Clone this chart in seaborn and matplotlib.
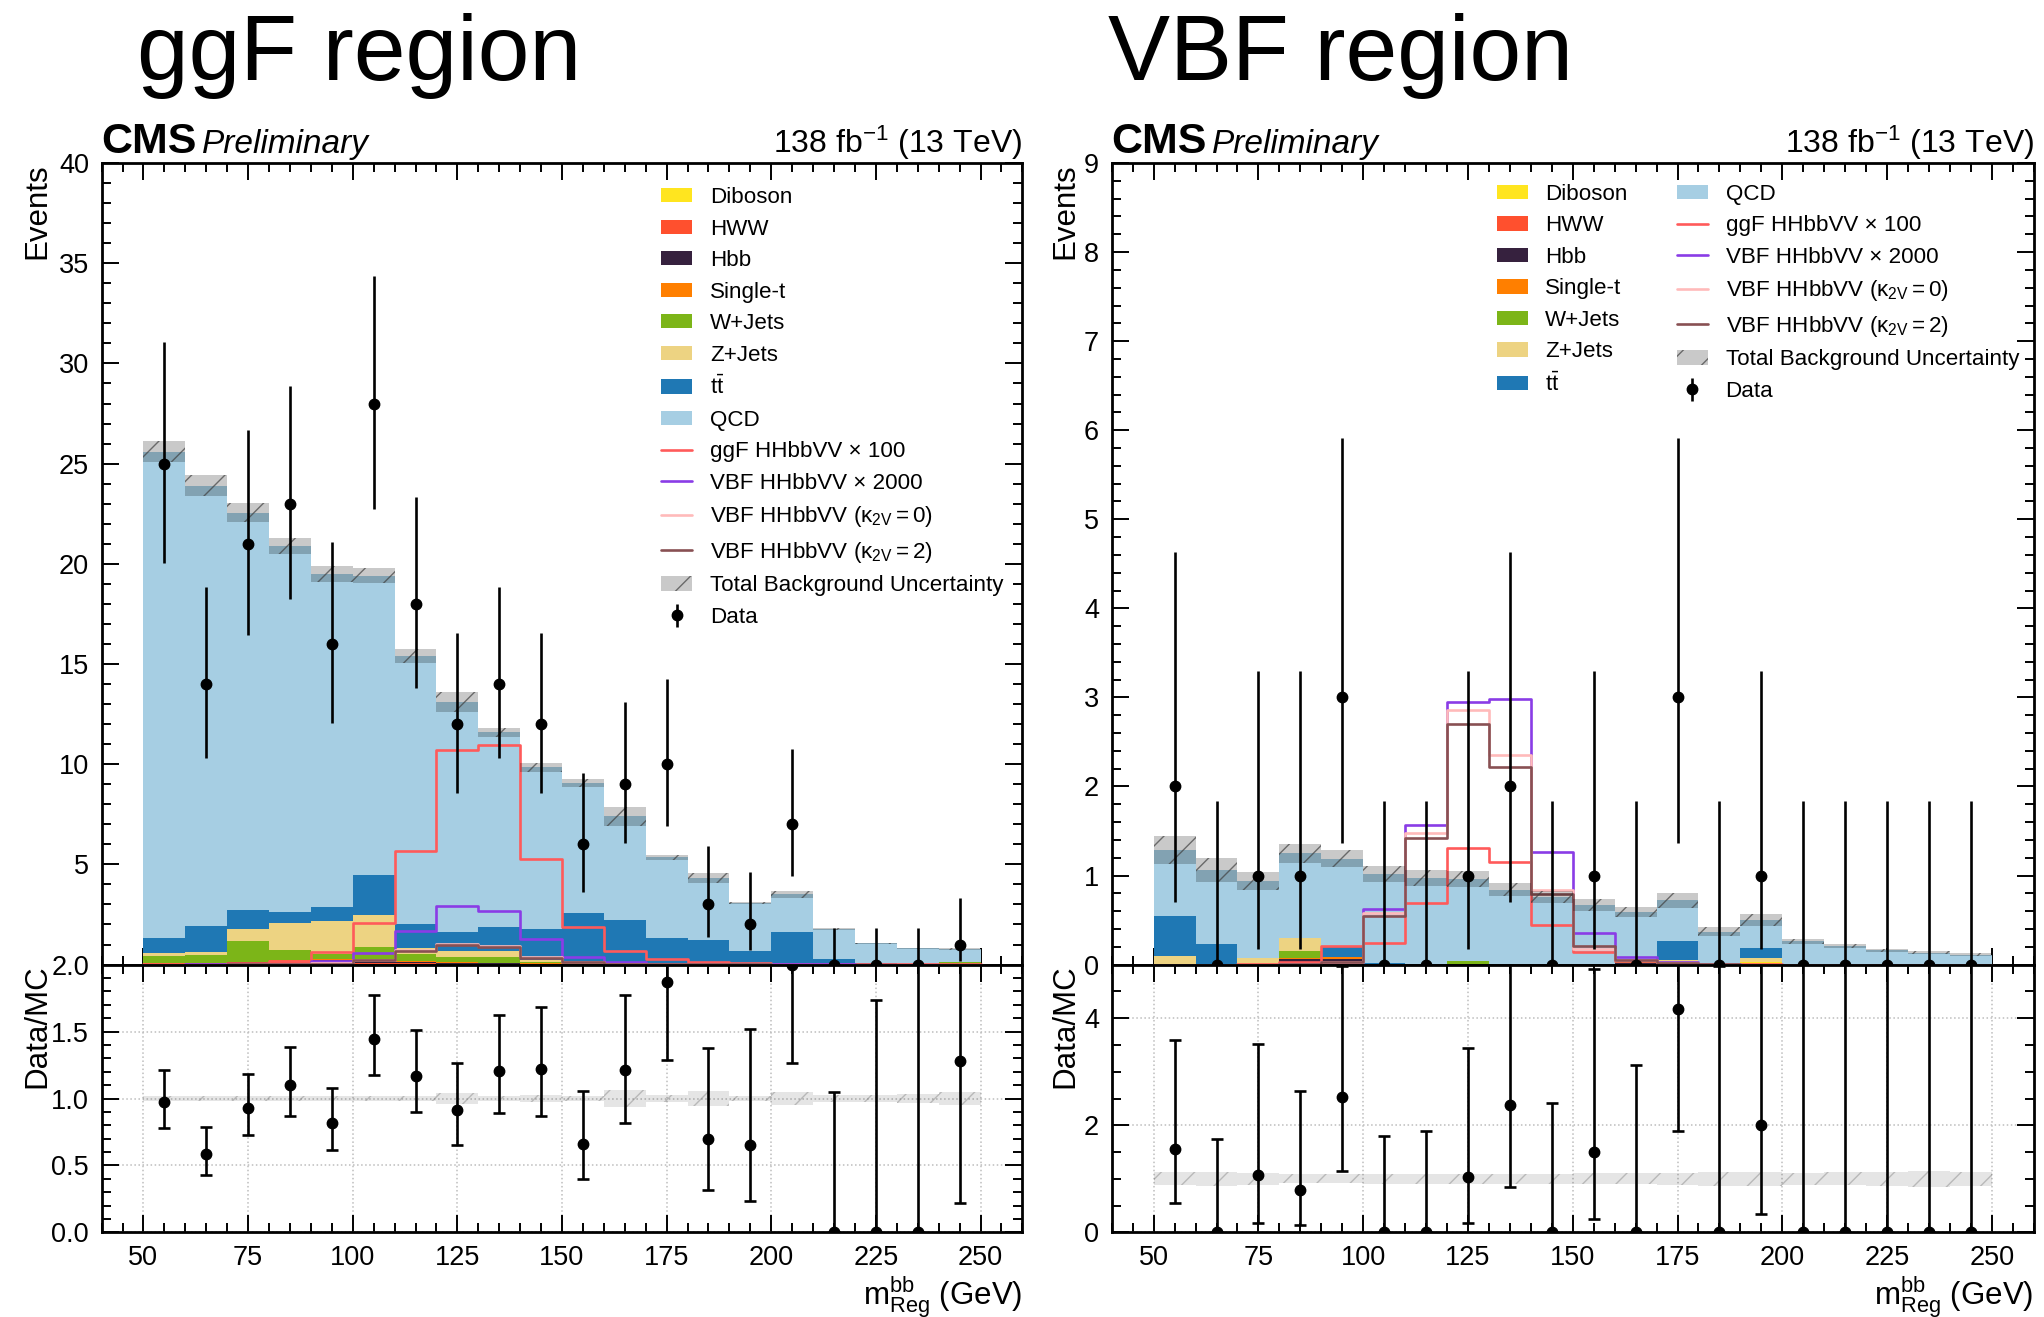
import math
import numpy as np
import pandas as pd
import matplotlib
matplotlib.use("Agg")
import matplotlib.pyplot as plt
import seaborn as sns
from matplotlib.ticker import MultipleLocator, FormatStrFormatter, FuncFormatter
from matplotlib.patches import Patch
from matplotlib.lines import Line2D

# ---------------------------------------------------------------- data
bin_edges = [50, 60, 70, 80, 90, 100, 110, 120, 130, 140, 150,
             160, 170, 180, 190, 200, 210, 220, 230, 240, 250]

processes = ["Diboson", "HWW", "Hbb", "Single-t", "W+Jets", "Z+Jets", "tt", "QCD"]
proc_labels = ["Diboson", "HWW", "Hbb", "Single-t", "W+Jets", "Z+Jets",
               r"t$\bar{\mathrm{t}}$", "QCD"]
proc_colors = ["#FFE51F", "#FF502E", "#36213E", "#FF7F00", "#7CB518",
               "#EDD382", "#1F78B4", "#A6CEE3"]

signal_labels = ["ggF HHbbVV × 100", "VBF HHbbVV × 2000",
                 r"VBF HHbbVV ($\kappa_{2V}=0$)", r"VBF HHbbVV ($\kappa_{2V}=2$)"]
signal_colors = ["#FF5A5A", "#8A3CE6", "#FFBABA", "#885053"]

# ggF region
ggf_diboson = [0.02, 0.02, 0.03, 0.03, 0.03, 0.03, 0.03, 0.02, 0.02, 0.01, 0.01, 0.01, 0.01, 0.0, 0.0, 0.01, 0.0, 0.0, 0.0, 0.0]
ggf_hww     = [0.02, 0.02, 0.05, 0.12, 0.10, 0.06, 0.04, 0.03, 0.02, 0.02, 0.01, 0.01, 0.01, 0.01, 0.01, 0.01, 0.0, 0.0, 0.0, 0.0]
ggf_hbb     = [0.01, 0.01, 0.03, 0.05, 0.10, 0.08, 0.05, 0.03, 0.02, 0.01, 0.01, 0.0, 0.0, 0.0, 0.0, 0.0, 0.0, 0.0, 0.0, 0.0]
ggf_singlet = [0.03, 0.03, 0.04, 0.05, 0.05, 0.06, 0.04, 0.03, 0.03, 0.02, 0.02, 0.01, 0.01, 0.01, 0.01, 0.02, 0.01, 0.01, 0.01, 0.01]
ggf_wjets   = [0.35, 0.40, 1.01, 0.48, 0.25, 0.66, 0.37, 0.25, 0.27, 0.09, 0.03, 0.03, 0.01, 0.01, 0.01, 0.01, 0.01, 0.01, 0.01, 0.11]
ggf_zjets   = [0.13, 0.16, 0.60, 1.36, 1.66, 1.57, 0.28, 0.34, 0.34, 0.07, 0.07, 0.06, 0.04, 0.03, 0.02, 0.03, 0.01, 0.01, 0.01, 0.01]
ggf_tt      = [0.75, 1.30, 0.96, 0.53, 0.70, 2.01, 1.20, 0.94, 1.16, 1.56, 2.40, 2.10, 1.23, 1.16, 0.61, 1.56, 0.25, 0.03, 0.02, 0.02]
ggf_qcd     = [24.29, 21.96, 19.83, 18.28, 16.61, 14.93, 13.39, 11.46, 9.74, 8.07, 6.50, 5.18, 4.04, 3.08, 2.40, 1.86, 1.48, 1.00, 0.76, 0.63]
ggf_unc     = [0.53, 0.53, 0.46, 0.40, 0.39, 0.37, 0.34, 0.51, 0.22, 0.23, 0.20, 0.48, 0.13, 0.25, 0.05, 0.16, 0.05, 0.03, 0.03, 0.04]
ggf_sig_ggf = [0.03, 0.05, 0.08, 0.20, 0.64, 2.09, 5.68, 10.70, 10.94, 5.26, 1.87, 0.68, 0.28, 0.15, 0.08, 0.05, 0.03, 0.02, 0.02, 0.01]
ggf_sig_vbf = [0.0, 0.01, 0.02, 0.05, 0.20, 0.56, 1.69, 2.92, 2.67, 1.26, 0.36, 0.12, 0.05, 0.03, 0.02, 0.01, 0.01, 0.0, 0.0, 0.0]
ggf_sig_k0  = [0.0, 0.0, 0.01, 0.02, 0.06, 0.25, 0.72, 1.05, 0.92, 0.38, 0.12, 0.05, 0.02, 0.01, 0.01, 0.0, 0.0, 0.0, 0.0, 0.0]
ggf_sig_k2  = [0.0, 0.0, 0.01, 0.02, 0.05, 0.22, 0.68, 0.98, 0.86, 0.34, 0.11, 0.04, 0.02, 0.01, 0.01, 0.0, 0.0, 0.0, 0.0, 0.0]
ggf_data    = [25, 14, 21, 23, 16, 28, 18, 12, 14, 12, 6, 9, 10, 3, 2, 7, 0, 0, 0, 1]

# VBF region
vbf_diboson = [0.0, 0.0, 0.0, 0.0, 0.0, 0.0, 0.0, 0.0, 0.0, 0.0, 0.0, 0.0, 0.0, 0.0, 0.03, 0.0, 0.0, 0.0, 0.0, 0.0]
vbf_hww     = [0.0, 0.0, 0.0, 0.01, 0.04, 0.0, 0.0, 0.0, 0.0, 0.0, 0.0, 0.0, 0.0, 0.0, 0.0, 0.0, 0.0, 0.0, 0.0, 0.0]
vbf_hbb     = [0.0, 0.0, 0.0, 0.05, 0.02, 0.0, 0.0, 0.0, 0.0, 0.0, 0.0, 0.02, 0.03, 0.0, 0.0, 0.0, 0.0, 0.0, 0.0, 0.0]
vbf_singlet = [0.0, 0.0, 0.0, 0.01, 0.03, 0.0, 0.0, 0.0, 0.0, 0.0, 0.0, 0.0, 0.0, 0.0, 0.0, 0.0, 0.0, 0.0, 0.0, 0.0]
vbf_wjets   = [0.0, 0.0, 0.0, 0.08, 0.0, 0.0, 0.0, 0.04, 0.0, 0.0, 0.0, 0.03, 0.0, 0.0, 0.0, 0.0, 0.0, 0.0, 0.0, 0.0]
vbf_zjets   = [0.10, 0.0, 0.07, 0.145, 0.0, 0.0, 0.0, 0.0, 0.0, 0.0, 0.0, 0.0, 0.02, 0.0, 0.04, 0.0, 0.0, 0.0, 0.0, 0.0]
vbf_tt      = [0.44, 0.23, 0.0, 0.0, 0.11, 0.02, 0.0, 0.0, 0.0, 0.0, 0.0, 0.0, 0.22, 0.0, 0.12, 0.0, 0.0, 0.0, 0.0, 0.0]
vbf_qcd     = [0.75, 0.83, 0.87, 0.955, 0.99, 1.00, 0.97, 0.92, 0.84, 0.76, 0.67, 0.54, 0.45, 0.37, 0.31, 0.26, 0.21, 0.16, 0.135, 0.11]
vbf_unc     = [0.156, 0.135, 0.10, 0.105, 0.10, 0.09, 0.09, 0.09, 0.073, 0.07, 0.07, 0.06, 0.08, 0.05, 0.065, 0.03, 0.025, 0.02, 0.02, 0.015]
vbf_sig_ggf = [0.0, 0.0, 0.01, 0.03, 0.21, 0.24, 0.69, 1.31, 1.155, 0.44, 0.145, 0.04, 0.02, 0.01, 0.01, 0.0, 0.0, 0.0, 0.0, 0.0]
vbf_sig_vbf = [0.0, 0.0, 0.0, 0.01, 0.03, 0.62, 1.57, 2.95, 2.98, 1.26, 0.36, 0.08, 0.03, 0.01, 0.0, 0.0, 0.0, 0.0, 0.0, 0.0]
vbf_sig_k0  = [0.0, 0.0, 0.0, 0.01, 0.03, 0.575, 1.48, 2.86, 2.35, 0.84, 0.18, 0.05, 0.02, 0.01, 0.0, 0.0, 0.0, 0.0, 0.0, 0.0]
vbf_sig_k2  = [0.0, 0.0, 0.0, 0.01, 0.03, 0.545, 1.42, 2.70, 2.22, 0.79, 0.21, 0.05, 0.02, 0.01, 0.0, 0.0, 0.0, 0.0, 0.0, 0.0]
vbf_data    = [2, 0, 1, 1, 3, 0, 0, 1, 2, 0, 1, 0, 3, 0, 1, 0, 0, 0, 0, 0]

# ---------------------------------------------------------------- style
sns.set_style("ticks")
plt.rcParams["font.family"] = ["Liberation Sans", "DejaVu Sans"]
plt.rcParams["mathtext.fontset"] = "custom"
plt.rcParams["mathtext.rm"] = "Liberation Sans"
plt.rcParams["mathtext.it"] = "Liberation Sans:italic"
plt.rcParams["mathtext.bf"] = "Liberation Sans:bold"
plt.rcParams["mathtext.default"] = "regular"
plt.rcParams["hatch.linewidth"] = 1.0
plt.rcParams["axes.edgecolor"] = "black"
plt.rcParams["text.color"] = "black"
plt.rcParams["axes.labelcolor"] = "black"
plt.rcParams["xtick.color"] = "black"
plt.rcParams["ytick.color"] = "black"
plt.rcParams["legend.labelcolor"] = "black"

edges = np.array(bin_edges, dtype=float)
centers = 0.5 * (edges[:-1] + edges[1:])


def pois_cdf(k, mu):
    if k < 0:
        return 0.0
    term = math.exp(-mu)
    s = term
    for i in range(1, k + 1):
        term *= mu / i
        s += term
    return s


def garwood(n, cl=0.682689):
    a = (1.0 - cl) / 2.0
    lo, hi = 0.0, n + 60.0
    for _ in range(200):
        mid = 0.5 * (lo + hi)
        if pois_cdf(n, mid) > a:
            lo = mid
        else:
            hi = mid
    up = 0.5 * (lo + hi)
    if n == 0:
        return 0.0, up
    lo, hi = 0.0, n + 60.0
    for _ in range(200):
        mid = 0.5 * (lo + hi)
        if 1.0 - pois_cdf(n - 1, mid) < a:
            lo = mid
        else:
            hi = mid
    return 0.5 * (lo + hi), up


def style_axis(ax, ymaj, ymin):
    ax.xaxis.set_major_locator(MultipleLocator(25))
    ax.xaxis.set_minor_locator(MultipleLocator(5))
    ax.yaxis.set_major_locator(MultipleLocator(ymaj))
    ax.yaxis.set_minor_locator(MultipleLocator(ymin))
    ax.tick_params(which="both", direction="in", top=True, right=True,
                   labelsize=19.5, width=1.4, pad=9, color="black",
                   labelcolor="black")
    ax.tick_params(which="major", length=12)
    ax.tick_params(which="minor", length=6.5)
    for sp in ax.spines.values():
        sp.set_linewidth(2.0)
        sp.set_color("black")


def draw_region(fig, x0, width, stack, unc, signals, data, ymax, ymaj, ymin,
                rmax, rmaj, rmin, rfmt, legend_ncol, leg_anchor, hide_zero):
    ax = fig.add_axes([x0, 0.2676, width, 0.6086])
    axr = fig.add_axes([x0, 0.0642, width, 0.2034])

    # stacked backgrounds (seaborn puts the first hue level on top)
    rows = []
    for name, vals in zip(processes, stack):
        for c, v in zip(centers, vals):
            rows.append({"x": float(c), "w": float(v), "proc": name})
    df = pd.DataFrame(rows)
    sns.histplot(data=df, x="x", weights="w", hue="proc",
                 hue_order=processes[::-1],
                 palette=dict(zip(processes, proc_colors)),
                 bins=list(bin_edges), multiple="stack", element="step", fill=True,
                 alpha=1.0, linewidth=0, legend=False, ax=ax)

    total = np.sum(np.array(stack), axis=0)
    unc = np.array(unc)

    # signals
    for vals, col in zip(signals, signal_colors):
        sdf = pd.DataFrame({"x": centers, "w": vals})
        sns.histplot(data=sdf, x="x", weights="w", bins=list(bin_edges), element="step",
                     fill=False, color=col, linewidth=1.9, ax=ax, zorder=3)

    # background uncertainty
    ax.fill_between(edges, np.append(total - unc, total[-1] - unc[-1]),
                    np.append(total + unc, total[-1] + unc[-1]), step="post",
                    facecolor=(0, 0, 0, 0.21), edgecolor=(0.25, 0.25, 0.25, 0.7),
                    hatch="/", linewidth=0, zorder=4)

    # data
    data = np.array(data)
    lows, ups = zip(*[garwood(int(n)) for n in data])
    lows = np.array(lows)
    ups = np.array(ups)
    eb = ax.errorbar(centers, data, yerr=[data - lows, ups - data], fmt="o",
                     color="black", ms=7.5, elinewidth=1.9, capsize=0, zorder=5)

    ax.set_xlim(40, 260)
    ax.set_ylim(0, ymax)
    ax.set_xlabel("")
    ax.set_ylabel("Events", loc="top", fontsize=22.5, color="black")
    style_axis(ax, ymaj, ymin)
    ax.tick_params(labelbottom=False)
    if hide_zero:
        ax.yaxis.set_major_formatter(FuncFormatter(lambda v, p: "" if abs(v) < 1e-9 else "%d" % v))

    # ratio
    axr.set_axisbelow(True)
    axr.grid(True, which="major", linestyle=":", color="#bdbdbd", linewidth=1.1)
    rel = unc / total
    axr.fill_between(edges, np.append(1 - rel, 1 - rel[-1]), np.append(1 + rel, 1 + rel[-1]),
                     step="post", facecolor=(0, 0, 0, 0.10), edgecolor=(0.4, 0.4, 0.4, 0.35),
                     hatch="/", linewidth=0, zorder=2)
    ratio = data / total
    axr.errorbar(centers, ratio, yerr=[(data - lows) / total, (ups - data) / total],
                 fmt="o", color="black", ms=7.5, elinewidth=1.9, capsize=4.5,
                 capthick=1.9, zorder=5)
    axr.set_xlim(40, 260)
    axr.set_ylim(0, rmax)
    style_axis(axr, rmaj, rmin)
    axr.yaxis.set_major_formatter(FormatStrFormatter(rfmt))
    axr.set_ylabel("Data/MC", loc="top", fontsize=22.5, color="black")
    axr.set_xlabel(r"$m^{bb}_{Reg}$ (GeV)", loc="right", fontsize=22.5, color="black")

    # legend
    handles = [Patch(facecolor=c, edgecolor="none") for c in proc_colors]
    handles += [Line2D([0], [0], color=c, lw=1.9) for c in signal_colors]
    handles += [Patch(facecolor=(0, 0, 0, 0.21), edgecolor=(0.25, 0.25, 0.25, 0.7),
                      hatch="/", linewidth=0), eb]
    labels = proc_labels + signal_labels + ["Total Background Uncertainty", "Data"]
    ax.legend(handles, labels, loc="upper left", bbox_to_anchor=leg_anchor,
              ncol=legend_ncol, frameon=False, fontsize=16.1, borderpad=0,
              borderaxespad=0, labelspacing=0.47, handlelength=1.4,
              handleheight=0.6, handletextpad=0.78, columnspacing=2.2)

    # labels above the frame
    cms = ax.text(0.0, 1.013, "CMS", transform=ax.transAxes, fontsize=31,
                  fontweight="bold", va="baseline", ha="left", color="black")
    ax.text(1.0, 1.013, "138 fb$^{-1}$ (13 TeV)", transform=ax.transAxes,
            fontsize=23, va="baseline", ha="right", color="black")
    return ax, axr, cms


fig = plt.figure(figsize=(20.44, 13.17), dpi=100)

ax1, ax1r, cms1 = draw_region(
    fig, 0.0497, 0.4505,
    [ggf_diboson, ggf_hww, ggf_hbb, ggf_singlet, ggf_wjets, ggf_zjets, ggf_tt, ggf_qcd],
    ggf_unc, [ggf_sig_ggf, ggf_sig_vbf, ggf_sig_k0, ggf_sig_k2], ggf_data,
    40, 5, 1, 2.0, 0.5, 0.1, "%.1f", 1, (0.6077, 0.970), True)

ax2, ax2r, cms2 = draw_region(
    fig, 0.5439, 0.4511,
    [vbf_diboson, vbf_hww, vbf_hbb, vbf_singlet, vbf_wjets, vbf_zjets, vbf_tt, vbf_qcd],
    vbf_unc, [vbf_sig_ggf, vbf_sig_vbf, vbf_sig_k0, vbf_sig_k2], vbf_data,
    9, 1, 0.2, 5.0, 2, 0.5, "%d", 2, (0.4173, 0.974), False)

for a in (ax1, ax1r):
    a.yaxis.set_label_coords(-0.053, 1.0)
for a in (ax2, ax2r):
    a.yaxis.set_label_coords(-0.0345, 1.0)
for a in (ax1r, ax2r):
    a.xaxis.set_label_coords(1.0, -0.155)

# "Preliminary" right after "CMS"
fig.canvas.draw()
renderer = fig.canvas.get_renderer()
for ax, cms in ((ax1, cms1), (ax2, cms2)):
    bb = cms.get_window_extent(renderer)
    x_ax = ax.transAxes.inverted().transform((bb.x1 + 5, bb.y0))[0]
    ax.text(x_ax, 1.013, "Preliminary", transform=ax.transAxes, fontsize=24,
            fontstyle="italic", va="baseline", ha="left", color="black")

fig.text(0.067, 0.939, "ggF region", fontsize=67, va="baseline", ha="left", color="black")
fig.text(0.542, 0.939, "VBF region", fontsize=67, va="baseline", ha="left", color="black")

fig.savefig("out.png", dpi=100)
